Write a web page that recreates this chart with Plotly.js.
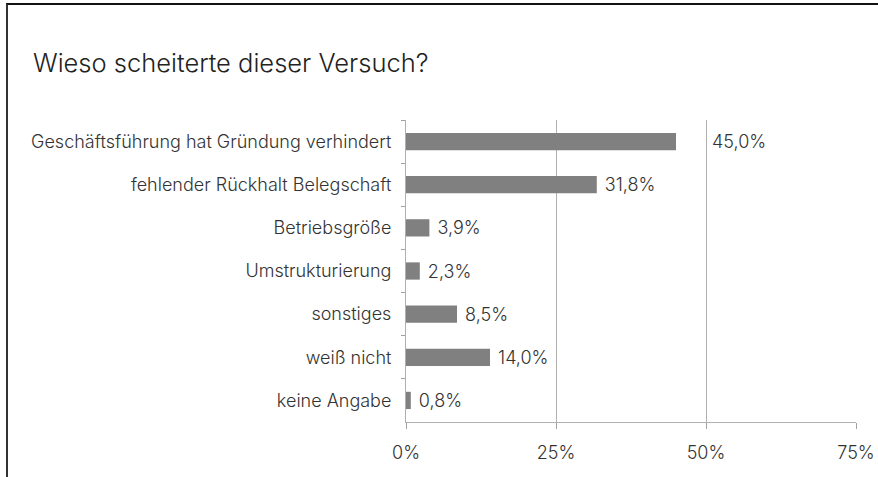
<!DOCTYPE html>
<html>
<head>
<meta charset="utf-8">
<script src="https://cdn.plot.ly/plotly-3.0.1.min.js"></script>
<style>
  html, body { margin: 0; padding: 0; background: #fff; }
  #wrap { position: relative; width: 878px; height: 477px; }
  #chart { width: 878px; height: 477px; }
  #frame { position: absolute; left: 6px; top: 3px; right: 0; bottom: 0;
           border-top: 2px solid #111; border-left: 2px solid #333; pointer-events: none; }
</style>
</head>
<body>
<div id="wrap">
  <div id="chart"></div>
  <div id="frame"></div>
</div>
<script>
const categories = [
  "Geschäftsführung hat Gründung verhindert",
  "fehlender Rückhalt Belegschaft",
  "Betriebsgröße",
  "Umstrukturierung",
  "sonstiges",
  "weiß nicht",
  "keine Angabe"
];
const values = [45.0, 31.8, 3.9, 2.3, 8.5, 14.0, 0.8];
const tickVals = [0, 25, 50, 75];
const tickText = ["0%", "25%", "50%", "75%"];
const titleText = "Wieso scheiterte dieser Versuch?";

const fontFam = "Inter, 'Open Sans', sans-serif";
const fmt = v => v.toFixed(1).replace(".", ",") + "%";

const trace = {
  type: "bar",
  orientation: "h",
  y: categories,
  x: values,
  width: 0.4,
  marker: { color: "#808080" },
  text: values.map((v, i) => i === 0 ? "" : "\u00a0" + fmt(v)),
  textposition: "outside",
  constraintext: "none",
  cliponaxis: false,
  textfont: { family: fontFam, size: 18, color: "#333", weight: 300 },
  hoverinfo: "none"
};

const layout = {
  width: 878,
  height: 477,
  margin: { l: 406, r: 22, t: 120, b: 55 },
  paper_bgcolor: "#fff",
  plot_bgcolor: "#fff",
  showlegend: false,
  title: {
    text: titleText,
    x: 33 / 878, xanchor: "left", xref: "container",
    y: 1 - 63 / 477, yanchor: "middle", yref: "container",
    font: { family: fontFam, size: 25.5, color: "#222", weight: 300 }
  },
  xaxis: {
    range: [0, 75],
    tickvals: tickVals,
    ticktext: tickText,
    showgrid: true,
    gridcolor: "#b0b0b0",
    gridwidth: 1,
    zeroline: false,
    showline: true,
    linecolor: "#b0b0b0",
    ticks: "outside",
    ticklen: 6,
    tickcolor: "#a0a0a0",
    ticklabelstandoff: 8,
    tickfont: { family: fontFam, size: 18, color: "#333", weight: 300 },
    fixedrange: true
  },
  yaxis: {
    autorange: "reversed",
    type: "category",
    showgrid: false,
    showline: true,
    linecolor: "#b0b0b0",
    ticks: "outside",
    ticklen: 4,
    tickcolor: "#a0a0a0",
    tickson: "boundaries",
    ticklabelstandoff: 10,
    tickfont: { family: fontFam, size: 18, color: "#333", weight: 300 },
    fixedrange: true
  },
  annotations: [{
    x: 50, y: categories[0], xref: "x", yref: "y",
    text: fmt(values[0]), showarrow: false,
    xanchor: "left", xshift: 4,
    font: { family: fontFam, size: 18, color: "#333", weight: 300 }
  }]
};

Plotly.newPlot("chart", [trace], layout, { displayModeBar: false, staticPlot: true });
</script>
</body>
</html>
